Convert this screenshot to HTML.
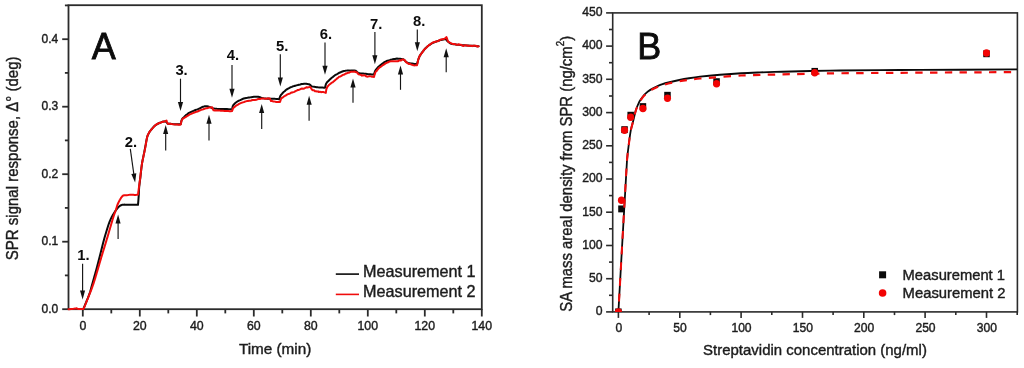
<!DOCTYPE html>
<html><head><meta charset="utf-8"><title>SPR figure</title>
<style>
html,body{margin:0;padding:0;background:#fff;}
body{width:1024px;height:368px;overflow:hidden;font-family:"Liberation Sans", sans-serif;}
svg{display:block;font-family:"Liberation Sans", sans-serif;will-change:transform;filter:blur(0.4px);}
svg text{font-family:"Liberation Sans", sans-serif;}
svg text.t{stroke:#1c1c1c;stroke-width:0.4px;}
</style></head>
<body>
<svg width="1024" height="368" viewBox="0 0 1024 368">
<rect x="0" y="0" width="1024" height="368" fill="#ffffff"/>
<rect x="68.5" y="5.2" width="413.3" height="304.0" fill="none" stroke="#2b2b2b" stroke-width="1.8"/>
<line x1="82.8" y1="309.2" x2="82.8" y2="316.5" stroke="#2b2b2b" stroke-width="1.8"/>
<text x="82.8" y="330.2" text-anchor="middle" font-size="12.3" fill="#1c1c1c" class="t">0</text>
<line x1="111.3" y1="309.2" x2="111.3" y2="313.4" stroke="#2b2b2b" stroke-width="1.8"/>
<line x1="139.8" y1="309.2" x2="139.8" y2="316.5" stroke="#2b2b2b" stroke-width="1.8"/>
<text x="139.8" y="330.2" text-anchor="middle" font-size="12.3" fill="#1c1c1c" class="t">20</text>
<line x1="168.3" y1="309.2" x2="168.3" y2="313.4" stroke="#2b2b2b" stroke-width="1.8"/>
<line x1="196.8" y1="309.2" x2="196.8" y2="316.5" stroke="#2b2b2b" stroke-width="1.8"/>
<text x="196.8" y="330.2" text-anchor="middle" font-size="12.3" fill="#1c1c1c" class="t">40</text>
<line x1="225.3" y1="309.2" x2="225.3" y2="313.4" stroke="#2b2b2b" stroke-width="1.8"/>
<line x1="253.8" y1="309.2" x2="253.8" y2="316.5" stroke="#2b2b2b" stroke-width="1.8"/>
<text x="253.8" y="330.2" text-anchor="middle" font-size="12.3" fill="#1c1c1c" class="t">60</text>
<line x1="282.3" y1="309.2" x2="282.3" y2="313.4" stroke="#2b2b2b" stroke-width="1.8"/>
<line x1="310.8" y1="309.2" x2="310.8" y2="316.5" stroke="#2b2b2b" stroke-width="1.8"/>
<text x="310.8" y="330.2" text-anchor="middle" font-size="12.3" fill="#1c1c1c" class="t">80</text>
<line x1="339.3" y1="309.2" x2="339.3" y2="313.4" stroke="#2b2b2b" stroke-width="1.8"/>
<line x1="367.8" y1="309.2" x2="367.8" y2="316.5" stroke="#2b2b2b" stroke-width="1.8"/>
<text x="367.8" y="330.2" text-anchor="middle" font-size="12.3" fill="#1c1c1c" class="t">100</text>
<line x1="396.3" y1="309.2" x2="396.3" y2="313.4" stroke="#2b2b2b" stroke-width="1.8"/>
<line x1="424.8" y1="309.2" x2="424.8" y2="316.5" stroke="#2b2b2b" stroke-width="1.8"/>
<text x="424.8" y="330.2" text-anchor="middle" font-size="12.3" fill="#1c1c1c" class="t">120</text>
<line x1="453.3" y1="309.2" x2="453.3" y2="313.4" stroke="#2b2b2b" stroke-width="1.8"/>
<line x1="481.8" y1="309.2" x2="481.8" y2="316.5" stroke="#2b2b2b" stroke-width="1.8"/>
<text x="481.8" y="330.2" text-anchor="middle" font-size="12.3" fill="#1c1c1c" class="t">140</text>
<line x1="62.2" y1="309.2" x2="68.5" y2="309.2" stroke="#2b2b2b" stroke-width="1.8"/>
<text x="58.2" y="312.8" text-anchor="end" font-size="12.0" fill="#1c1c1c" class="t">0.0</text>
<line x1="64.9" y1="275.4" x2="68.5" y2="275.4" stroke="#2b2b2b" stroke-width="1.8"/>
<line x1="62.2" y1="241.7" x2="68.5" y2="241.7" stroke="#2b2b2b" stroke-width="1.8"/>
<text x="58.2" y="245.3" text-anchor="end" font-size="12.0" fill="#1c1c1c" class="t">0.1</text>
<line x1="64.9" y1="207.9" x2="68.5" y2="207.9" stroke="#2b2b2b" stroke-width="1.8"/>
<line x1="62.2" y1="174.2" x2="68.5" y2="174.2" stroke="#2b2b2b" stroke-width="1.8"/>
<text x="58.2" y="177.8" text-anchor="end" font-size="12.0" fill="#1c1c1c" class="t">0.2</text>
<line x1="64.9" y1="140.4" x2="68.5" y2="140.4" stroke="#2b2b2b" stroke-width="1.8"/>
<line x1="62.2" y1="106.7" x2="68.5" y2="106.7" stroke="#2b2b2b" stroke-width="1.8"/>
<text x="58.2" y="110.3" text-anchor="end" font-size="12.0" fill="#1c1c1c" class="t">0.3</text>
<line x1="64.9" y1="72.9" x2="68.5" y2="72.9" stroke="#2b2b2b" stroke-width="1.8"/>
<line x1="62.2" y1="39.2" x2="68.5" y2="39.2" stroke="#2b2b2b" stroke-width="1.8"/>
<text x="58.2" y="42.8" text-anchor="end" font-size="12.0" fill="#1c1c1c" class="t">0.4</text>
<line x1="64.9" y1="5.4" x2="68.5" y2="5.4" stroke="#2b2b2b" stroke-width="1.8"/>
<polyline points="83.20,309.20 83.68,308.07 84.17,306.92 84.66,305.77 85.16,304.62 85.64,303.48 86.11,302.36 86.57,301.26 87.00,300.20 87.44,299.10 87.88,298.00 88.31,296.90 88.73,295.79 89.14,294.69 89.53,293.59 89.90,292.50 90.29,291.26 90.65,290.02 90.99,288.76 91.32,287.51 91.66,286.25 92.00,285.00 92.28,284.01 92.58,282.93 92.91,281.78 93.26,280.56 93.62,279.28 93.99,277.97 94.36,276.63 94.74,275.28 95.12,273.93 95.49,272.59 95.85,271.27 96.20,270.00 96.54,268.75 96.87,267.50 97.20,266.26 97.52,265.01 97.85,263.76 98.17,262.50 98.50,261.25 98.82,260.00 99.14,258.75 99.46,257.50 99.78,256.25 100.10,255.00 100.42,253.75 100.73,252.50 101.04,251.25 101.35,250.00 101.66,248.74 101.97,247.49 102.28,246.24 102.59,244.99 102.91,243.74 103.23,242.49 103.56,241.24 103.90,240.00 104.23,238.82 104.58,237.59 104.95,236.33 105.32,235.05 105.70,233.76 106.08,232.49 106.46,231.23 106.83,230.02 107.19,228.86 107.53,227.76 107.85,226.74 108.14,225.82 108.40,225.00 108.81,223.80 109.25,222.62 109.72,221.45 110.20,220.30 110.69,219.18 111.19,218.07 111.73,216.98 112.30,215.90 112.92,214.84 113.64,213.67 114.39,212.50 115.10,211.41 115.70,210.50 116.31,209.62 116.96,208.77 117.60,208.00 118.19,207.35 118.82,206.74 119.50,206.20 120.28,205.71 121.12,205.23 122.00,204.85 122.96,204.80 123.98,204.62 125.00,204.70 126.13,204.76 127.44,204.72 128.77,204.77 130.00,204.81 131.00,204.81 132.00,204.74 133.00,204.66 134.00,204.64 135.00,204.75 136.00,204.73 137.00,204.75 138.00,204.86 138.10,203.56 138.20,202.34 138.30,201.29 138.40,200.04 138.48,198.98 138.57,197.75 138.65,196.67 138.73,195.60 138.80,194.38 138.86,193.34 138.91,192.17 138.97,190.78 139.03,189.56 139.10,188.26 139.20,187.04 139.32,185.77 139.46,184.58 139.62,183.32 139.79,181.85 139.97,180.47 140.14,179.28 140.30,178.10 140.42,176.98 140.54,175.90 140.66,174.80 140.79,173.57 140.92,172.34 141.05,171.08 141.19,169.82 141.34,168.61 141.49,167.31 141.65,166.06 141.82,164.93 142.00,163.60 142.21,162.42 142.43,161.23 142.66,159.91 142.91,158.60 143.17,157.46 143.43,156.12 143.69,154.83 143.95,153.62 144.21,152.47 144.46,151.13 144.70,149.92 144.93,148.71 145.16,147.57 145.39,146.24 145.62,145.03 145.85,143.60 146.08,142.31 146.31,141.15 146.53,140.07 146.76,138.91 146.98,137.83 147.20,136.88 147.54,135.89 147.98,134.78 148.48,133.88 149.00,132.98 149.50,131.97 150.06,131.06 150.67,130.34 151.33,129.54 152.00,128.80 152.70,127.90 153.42,127.00 154.19,126.22 155.00,125.63 155.91,124.90 156.89,124.28 157.87,123.74 158.80,123.26 159.84,122.76 160.91,122.45 162.00,121.95 163.20,121.56 164.45,121.49 165.70,121.31 166.37,122.13 167.03,122.79 167.70,123.64 168.96,123.79 170.22,123.76 171.48,123.95 172.74,124.11 174.00,124.19 175.09,124.21 176.20,124.19 177.33,124.22 178.45,124.22 179.58,124.21 180.70,124.36 180.93,123.26 181.14,122.27 181.36,121.05 181.63,120.17 182.00,119.27 182.60,118.42 183.34,117.63 184.16,116.89 185.00,116.09 185.92,115.14 186.91,114.46 187.94,113.62 189.00,112.92 190.09,112.39 191.21,111.83 192.35,111.28 193.50,110.90 194.47,110.48 195.47,110.03 196.49,109.61 197.50,109.36 198.50,108.92 199.61,108.48 200.78,107.83 201.96,107.18 203.05,106.73 204.00,106.47 205.00,106.14 206.03,106.21 207.00,106.34 208.22,106.57 209.40,106.96 210.29,107.12 211.31,107.70 212.40,108.28 213.50,108.42 214.48,108.55 215.61,108.66 216.83,108.82 218.12,108.89 219.44,108.97 220.75,109.11 222.00,108.99 223.18,108.97 224.39,109.00 225.64,109.02 226.91,109.02 228.18,109.28 229.46,109.37 230.74,109.22 232.00,109.27 232.29,108.13 232.54,106.99 232.87,105.90 233.40,105.01 234.10,104.21 234.96,103.35 235.94,102.50 236.97,101.77 238.00,101.06 239.06,100.55 240.18,100.09 241.34,99.54 242.51,98.98 243.70,98.56 244.92,98.24 246.17,98.00 247.44,97.81 248.72,97.50 250.00,97.38 251.23,97.21 252.56,97.01 253.93,96.85 255.25,96.77 256.43,96.78 257.40,96.70 258.28,96.82 259.15,96.97 260.00,97.14 260.91,97.55 261.83,98.06 262.80,98.20 263.75,98.33 264.87,98.41 266.13,98.58 267.44,98.69 268.75,98.59 270.00,98.73 271.05,98.78 272.16,98.69 273.30,98.73 274.47,98.68 275.66,98.88 276.85,98.96 278.04,99.08 279.20,99.14 279.61,97.91 280.02,96.72 280.60,95.57 281.25,94.59 282.06,93.75 282.95,92.70 283.86,91.81 284.70,91.20 285.60,90.33 286.53,89.59 287.50,88.92 288.50,88.52 289.57,87.84 290.69,87.20 291.84,86.88 293.00,86.30 294.10,86.06 295.28,85.69 296.51,85.37 297.76,85.08 299.00,84.70 300.26,84.47 301.57,84.03 302.86,83.94 304.09,83.79 305.20,83.77 306.27,83.66 307.34,83.90 308.38,84.23 309.30,84.34 310.23,84.95 311.06,85.80 312.00,86.48 312.99,86.62 314.16,86.76 315.44,86.91 316.74,87.15 318.00,87.36 319.11,87.40 320.26,87.46 321.44,87.53 322.63,87.59 323.82,87.67 325.00,87.66 325.29,86.56 325.55,85.53 325.88,84.29 326.40,83.28 327.01,82.31 327.79,81.51 328.65,80.68 329.55,79.81 330.42,78.96 331.20,78.21 332.10,77.46 333.04,76.81 334.01,75.94 335.00,75.17 336.08,74.61 337.21,74.02 338.34,73.31 339.40,72.71 340.59,72.25 341.81,71.70 343.00,71.31 344.09,70.98 345.19,70.83 346.30,70.63 347.27,70.52 348.44,70.56 349.70,70.62 350.95,70.45 352.09,70.47 353.00,70.40 354.28,70.45 355.50,70.67 356.33,71.30 357.18,72.22 358.20,72.83 359.05,73.13 360.06,73.31 361.18,73.39 362.39,73.52 363.62,73.62 364.84,73.84 366.00,73.82 367.13,74.10 368.27,74.13 369.41,74.22 370.56,74.27 371.71,74.43 372.86,74.55 374.00,74.58 374.29,73.51 374.56,72.52 374.88,71.57 375.30,70.53 375.87,69.71 376.53,68.98 377.26,68.11 378.00,67.25 378.81,66.41 379.67,65.72 380.57,64.99 381.50,64.35 382.46,63.68 383.46,62.87 384.47,62.17 385.50,61.60 386.52,61.07 387.57,60.76 388.64,60.46 389.70,60.15 390.77,59.69 391.86,59.52 392.95,59.18 394.00,58.98 394.97,58.91 395.94,58.66 396.92,58.54 397.90,58.72 398.95,58.71 400.15,58.79 401.37,58.98 402.49,59.21 403.40,59.29 404.19,59.81 404.85,60.56 405.50,61.27 406.45,62.05 407.50,62.78 408.45,63.19 409.59,63.34 410.81,63.54 412.00,63.61 413.21,63.75 414.47,63.97 415.74,63.98 417.00,64.26 417.32,63.15 417.62,61.76 417.95,60.73 418.30,59.51 418.67,58.55 419.06,57.57 419.51,56.46 420.00,55.54 420.56,54.63 421.18,53.77 421.83,52.76 422.50,51.96 423.20,51.14 423.93,50.18 424.70,49.23 425.50,48.22 426.38,47.40 427.33,46.52 428.30,45.79 429.30,45.06 430.32,44.37 431.37,43.63 432.44,43.13 433.50,42.64 434.50,42.08 435.52,41.81 436.56,41.44 437.60,40.93 438.69,40.73 439.82,40.24 440.94,39.91 442.00,39.73 443.26,39.45 444.53,39.19 445.80,38.96 446.43,39.85 447.06,40.72 447.80,41.49 448.53,42.04 449.36,42.78 450.26,43.37 451.20,43.74 452.21,44.05 453.35,44.16 454.56,44.25 455.80,44.40 457.00,44.67 458.04,44.64 459.11,44.82 460.20,44.90 461.30,45.14 462.41,45.18 463.50,45.24 464.69,45.33 465.93,45.43 467.19,45.57 468.46,45.55 469.74,45.71 471.00,45.63 472.26,45.71 473.53,45.76 474.79,45.86 476.06,46.15 477.33,46.34 478.60,46.34" fill="none" stroke="#0a0a0a" stroke-width="2.0" stroke-linejoin="round" stroke-linecap="round"/>
<polyline points="68.50,309.20 69.69,309.14 70.87,309.08 72.00,309.00 73.06,308.88 74.11,308.73 75.00,308.60 75.75,308.40 76.50,308.30 77.24,308.58 78.00,308.90 79.19,309.04 80.50,309.10 81.49,309.09 82.54,309.04 83.60,309.00 84.05,307.88 84.50,306.75 84.96,305.63 85.41,304.50 85.86,303.38 86.31,302.25 86.76,301.13 87.20,300.00 87.58,299.04 87.98,298.02 88.41,296.95 88.86,295.83 89.33,294.67 89.80,293.48 90.28,292.27 90.76,291.04 91.23,289.81 91.70,288.58 92.15,287.37 92.59,286.17 93.00,285.00 93.39,283.86 93.77,282.71 94.14,281.56 94.50,280.41 94.86,279.26 95.21,278.10 95.55,276.94 95.89,275.79 96.23,274.63 96.57,273.47 96.91,272.31 97.26,271.15 97.60,270.00 97.94,268.85 98.29,267.69 98.62,266.54 98.96,265.39 99.30,264.23 99.63,263.08 99.97,261.92 100.30,260.77 100.64,259.61 100.98,258.46 101.31,257.31 101.66,256.15 102.00,255.00 102.35,253.85 102.70,252.69 103.05,251.54 103.41,250.38 103.76,249.23 104.12,248.08 104.48,246.92 104.84,245.77 105.19,244.62 105.55,243.46 105.90,242.31 106.25,241.15 106.60,240.00 106.95,238.83 107.30,237.64 107.66,236.42 108.02,235.20 108.38,233.97 108.74,232.74 109.09,231.53 109.44,230.34 109.78,229.18 110.10,228.06 110.42,226.98 110.72,225.96 111.00,225.00 111.34,223.84 111.69,222.64 112.04,221.42 112.39,220.22 112.74,219.04 113.07,217.91 113.40,216.86 113.70,215.90 114.08,214.81 114.48,213.73 114.90,212.66 115.31,211.58 115.70,210.50 116.05,209.39 116.38,208.27 116.70,207.15 117.03,206.05 117.40,205.00 117.92,203.76 118.49,202.51 119.08,201.33 119.60,200.30 120.12,199.45 120.67,198.46 121.20,197.66 121.86,196.81 122.60,195.91 123.40,195.51 124.30,195.21 125.41,195.17 126.74,195.17 128.00,195.04 129.00,194.88 130.00,194.64 131.00,194.69 132.13,194.68 133.31,194.81 134.50,194.94 135.67,194.91 136.83,194.87 138.00,194.72 138.14,193.55 138.28,192.45 138.43,191.32 138.57,190.26 138.71,189.07 138.85,188.15 139.00,187.04 139.16,185.69 139.33,184.41 139.50,183.13 139.68,181.84 139.86,180.47 140.03,179.33 140.20,178.15 140.33,177.05 140.45,175.94 140.58,174.68 140.72,173.45 140.86,172.27 141.00,171.03 141.15,169.92 141.30,168.54 141.47,167.19 141.64,166.16 141.81,164.92 142.00,163.62 142.22,162.42 142.45,161.05 142.70,159.87 142.96,158.78 143.22,157.57 143.49,156.29 143.77,154.91 144.04,153.64 144.30,152.34 144.56,151.24 144.80,150.02 145.03,148.88 145.25,147.52 145.48,146.16 145.70,144.99 145.91,143.80 146.13,142.54 146.35,141.30 146.56,140.13 146.77,139.02 146.99,137.87 147.20,137.00 147.54,135.89 147.98,134.72 148.48,133.65 149.00,132.73 149.50,131.87 150.06,131.12 150.67,130.42 151.33,129.53 152.00,128.84 152.70,128.09 153.42,127.30 154.19,126.37 155.00,125.55 155.91,124.85 156.89,124.21 157.87,123.65 158.80,123.27 159.84,122.91 160.91,122.52 162.00,122.06 163.30,121.69 164.66,121.40 165.70,120.94 166.50,120.52 166.90,121.62 167.30,122.63 167.70,123.63 168.96,123.72 170.22,123.78 171.48,124.07 172.74,124.15 174.00,124.37 175.09,124.54 176.20,124.48 177.33,124.47 178.45,124.64 179.58,124.67 180.70,124.56 180.99,123.20 181.24,121.84 181.56,120.79 182.00,119.80 182.83,118.70 183.89,118.06 185.00,117.46 185.93,116.83 186.93,116.14 187.97,115.57 189.00,114.91 190.08,114.26 191.20,113.91 192.35,113.38 193.50,112.84 194.47,112.55 195.46,112.09 196.47,111.82 197.49,111.49 198.50,110.99 199.57,110.55 200.67,110.07 201.78,109.64 202.90,109.41 204.00,108.96 205.12,108.64 206.28,108.15 207.42,108.13 208.49,107.71 209.40,107.47 210.32,107.38 211.26,107.49 212.20,107.26 212.63,108.47 213.07,109.37 213.50,110.36 214.71,110.43 215.93,110.26 217.14,110.45 218.36,110.45 219.57,110.41 220.78,110.83 222.00,110.74 223.18,110.86 224.39,111.07 225.64,111.09 226.91,111.01 228.18,111.08 229.46,111.15 230.74,111.31 232.00,111.07 232.47,110.00 232.94,108.71 233.60,107.63 234.29,107.16 235.12,106.41 236.04,105.71 237.02,105.15 238.00,104.67 239.05,103.94 240.17,103.42 241.33,102.89 242.52,102.43 243.70,102.11 244.71,101.70 245.75,101.41 246.80,101.10 247.87,101.07 248.93,100.81 250.00,100.68 251.19,100.54 252.45,100.05 253.74,99.89 255.03,99.93 256.26,99.82 257.40,99.34 258.52,99.04 259.64,98.97 260.76,98.68 261.88,98.56 263.00,98.38 264.05,98.55 265.15,98.66 266.28,98.73 267.43,98.36 268.57,98.44 269.70,98.42 270.13,99.01 270.57,100.10 271.00,101.09 272.00,101.00 272.99,101.45 273.99,101.49 275.00,101.62 276.18,101.98 277.44,102.10 278.73,101.87 280.00,101.95 280.36,100.84 280.72,99.63 281.30,98.51 282.05,97.79 282.97,97.30 283.99,96.39 285.00,95.93 285.94,95.39 286.97,94.63 288.04,94.14 289.13,93.78 290.20,93.29 291.25,92.61 292.30,92.51 293.36,92.14 294.43,91.84 295.50,91.05 296.60,90.55 297.73,90.00 298.86,89.92 299.96,89.43 301.00,88.81 302.12,88.59 303.25,88.70 304.37,88.49 305.50,87.77 306.62,87.20 307.75,87.44 308.87,87.12 310.00,86.93 310.63,87.57 311.26,88.44 312.00,89.74 312.96,90.28 314.03,90.35 315.00,91.19 316.00,91.31 317.00,91.54 317.99,91.37 319.00,92.11 319.93,91.70 320.97,92.14 322.00,92.04 323.21,92.05 324.50,92.37 325.80,92.95 326.04,91.34 326.24,89.81 326.52,88.80 327.00,87.53 327.62,86.48 328.38,85.60 329.24,84.67 330.14,83.95 331.00,83.32 331.83,82.65 332.68,82.36 333.55,81.48 334.42,80.89 335.30,80.01 336.27,79.29 337.29,78.26 338.34,77.55 339.41,76.62 340.50,76.42 341.46,75.93 342.47,75.10 343.49,74.66 344.50,74.57 345.45,73.61 346.30,73.58 347.22,73.04 348.18,72.68 349.12,72.65 350.00,72.14 351.01,71.83 352.03,71.71 353.00,71.87 354.30,71.55 355.50,72.01 356.36,72.28 357.20,72.55 357.67,73.17 358.13,73.86 358.60,74.38 359.79,74.64 360.97,74.90 362.00,75.64 363.00,75.43 364.00,75.22 364.99,75.38 366.00,76.25 366.86,76.62 367.88,76.63 368.96,76.35 370.00,76.26 371.00,76.37 372.00,76.67 373.00,76.66 374.00,77.00 374.29,75.67 374.56,74.95 374.88,73.98 375.30,72.67 375.85,71.44 376.52,71.09 377.25,70.02 378.00,69.18 378.81,68.06 379.67,67.45 380.57,66.85 381.50,66.23 382.46,65.37 383.46,64.90 384.47,63.98 385.50,63.50 386.53,62.87 387.58,62.59 388.64,61.95 389.70,61.47 390.77,61.36 391.86,61.14 392.95,61.25 394.00,61.17 394.99,61.27 396.00,61.21 396.98,61.19 397.90,61.24 398.97,60.70 400.02,60.25 401.00,60.46 402.22,59.47 403.40,59.53 404.13,60.03 404.82,60.30 405.50,61.44 406.48,62.47 407.50,63.08 408.29,63.59 409.13,64.12 410.00,63.98 410.96,64.40 411.97,64.71 413.00,65.17 413.93,65.33 414.94,65.39 415.98,65.18 417.00,65.34 417.32,64.02 417.62,62.74 417.95,61.12 418.30,59.58 418.67,58.35 419.07,57.35 419.51,56.08 420.00,55.56 420.55,54.63 421.17,53.79 421.83,52.94 422.50,52.12 423.20,51.08 423.93,49.70 424.70,49.24 425.50,48.54 426.38,47.54 427.33,46.65 428.30,45.92 429.30,44.72 430.32,44.39 431.37,43.53 432.44,42.70 433.50,42.21 434.51,42.15 435.53,41.47 436.57,41.40 437.60,41.33 438.72,40.64 439.90,39.98 441.03,39.53 442.00,39.34 443.28,39.15 444.50,38.72 445.47,38.16 446.40,37.05 446.80,37.96 447.21,39.07 447.61,40.50 448.00,41.15 448.68,42.12 449.50,42.39 450.31,42.79 451.20,43.26 452.05,43.74 453.03,43.95 454.00,44.11 454.99,44.11 455.99,44.53 457.00,44.76 458.00,44.73 459.00,44.29 460.00,44.77 461.13,44.69 462.31,45.56 463.50,46.00 464.67,45.31 465.83,45.23 467.00,45.51 467.98,45.92 469.00,45.83 470.02,45.76 471.00,45.71 472.17,46.20 473.33,45.70 474.50,45.81 475.48,45.62 476.51,45.98 477.56,46.63 478.60,46.34" fill="none" stroke="#f00c0c" stroke-width="2.0" stroke-linejoin="round" stroke-linecap="round"/>
<line x1="82.6" y1="263.7" x2="82.6" y2="291.6" stroke="#141414" stroke-width="1.15"/>
<polygon points="82.6,299.6 80.0,290.6 85.1,290.6" fill="#111"/>
<line x1="130.3" y1="148.8" x2="133.9" y2="174.6" stroke="#141414" stroke-width="1.15"/>
<polygon points="135.1,182.5 131.3,173.9 136.3,173.2" fill="#111"/>
<line x1="180.5" y1="78.7" x2="180.5" y2="103.0" stroke="#141414" stroke-width="1.15"/>
<polygon points="180.5,111.0 177.9,102.0 183.1,102.0" fill="#111"/>
<line x1="232.0" y1="65.0" x2="232.0" y2="89.7" stroke="#141414" stroke-width="1.15"/>
<polygon points="232.0,97.7 229.4,88.7 234.6,88.7" fill="#111"/>
<line x1="280.3" y1="54.2" x2="280.3" y2="78.4" stroke="#141414" stroke-width="1.15"/>
<polygon points="280.3,86.4 277.8,77.4 282.9,77.4" fill="#111"/>
<line x1="325.0" y1="42.6" x2="325.0" y2="66.8" stroke="#141414" stroke-width="1.15"/>
<polygon points="325.0,74.8 322.4,65.8 327.6,65.8" fill="#111"/>
<line x1="374.9" y1="32.1" x2="374.9" y2="56.2" stroke="#141414" stroke-width="1.15"/>
<polygon points="374.9,64.2 372.3,55.2 377.4,55.2" fill="#111"/>
<line x1="417.3" y1="29.4" x2="417.3" y2="43.2" stroke="#141414" stroke-width="1.15"/>
<polygon points="417.3,51.2 414.8,42.2 419.9,42.2" fill="#111"/>
<line x1="118.1" y1="239.0" x2="118.1" y2="222.6" stroke="#141414" stroke-width="1.15"/>
<polygon points="118.1,214.6 120.6,223.6 115.5,223.6" fill="#111"/>
<line x1="165.7" y1="150.5" x2="165.7" y2="133.0" stroke="#141414" stroke-width="1.15"/>
<polygon points="165.7,125.0 168.2,134.0 163.1,134.0" fill="#111"/>
<line x1="209.0" y1="140.5" x2="209.0" y2="122.8" stroke="#141414" stroke-width="1.15"/>
<polygon points="209.0,114.8 211.6,123.8 206.4,123.8" fill="#111"/>
<line x1="261.7" y1="129.0" x2="261.7" y2="112.1" stroke="#141414" stroke-width="1.15"/>
<polygon points="261.7,104.1 264.2,113.1 259.1,113.1" fill="#111"/>
<line x1="309.1" y1="120.8" x2="309.1" y2="103.8" stroke="#141414" stroke-width="1.15"/>
<polygon points="309.1,95.8 311.7,104.8 306.6,104.8" fill="#111"/>
<line x1="353.0" y1="102.7" x2="353.0" y2="86.6" stroke="#141414" stroke-width="1.15"/>
<polygon points="353.0,78.6 355.6,87.6 350.4,87.6" fill="#111"/>
<line x1="400.5" y1="89.8" x2="400.5" y2="73.5" stroke="#141414" stroke-width="1.15"/>
<polygon points="400.5,65.5 403.1,74.5 397.9,74.5" fill="#111"/>
<line x1="446.2" y1="72.2" x2="446.2" y2="56.2" stroke="#141414" stroke-width="1.15"/>
<polygon points="446.2,48.2 448.8,57.2 443.6,57.2" fill="#111"/>
<text x="77.3" y="260.0" font-size="14.8" font-weight="700" fill="#0c0c0c">1.</text>
<text x="124.8" y="146.9" font-size="14.8" font-weight="700" fill="#0c0c0c">2.</text>
<text x="175.4" y="75.0" font-size="14.8" font-weight="700" fill="#0c0c0c">3.</text>
<text x="226.7" y="60.0" font-size="14.8" font-weight="700" fill="#0c0c0c">4.</text>
<text x="276.0" y="50.8" font-size="14.8" font-weight="700" fill="#0c0c0c">5.</text>
<text x="319.8" y="39.3" font-size="14.8" font-weight="700" fill="#0c0c0c">6.</text>
<text x="370.0" y="29.1" font-size="14.8" font-weight="700" fill="#0c0c0c">7.</text>
<text x="413.1" y="25.7" font-size="14.8" font-weight="700" fill="#0c0c0c">8.</text>
<text x="91.7" y="58.9" font-size="36" fill="#0c0c0c" stroke="#0c0c0c" stroke-width="0.8">A</text>
<line x1="335.8" y1="274.1" x2="359" y2="274.1" stroke="#0a0a0a" stroke-width="1.6"/>
<line x1="335.8" y1="294.4" x2="359" y2="294.4" stroke="#f00c0c" stroke-width="1.6"/>
<text x="363.1" y="277.0" font-size="16.2" fill="#1c1c1c" class="t">Measurement 1</text>
<text x="363.1" y="297.4" font-size="16.2" fill="#1c1c1c" class="t">Measurement 2</text>
<text x="238.9" y="354.4" font-size="15" textLength="72.4" lengthAdjust="spacingAndGlyphs" fill="#1c1c1c" class="t">Time (min)</text>
<text transform="translate(18.4,260.2) rotate(-90)" font-size="16" textLength="203.7" lengthAdjust="spacingAndGlyphs" fill="#1c1c1c" class="t">SPR signal response, Δ° (deg)</text>
<rect x="612.7" y="12.9" width="404.69999999999993" height="299.0" fill="none" stroke="#2b2b2b" stroke-width="1.6"/>
<line x1="618.4" y1="311.9" x2="618.4" y2="317.9" stroke="#2b2b2b" stroke-width="1.6"/>
<text x="618.8" y="332.0" text-anchor="middle" font-size="12.1" fill="#1c1c1c" class="t">0</text>
<line x1="649.1" y1="311.9" x2="649.1" y2="315.09999999999997" stroke="#2b2b2b" stroke-width="1.6"/>
<line x1="679.8" y1="311.9" x2="679.8" y2="317.9" stroke="#2b2b2b" stroke-width="1.6"/>
<text x="680.1" y="332.0" text-anchor="middle" font-size="12.1" fill="#1c1c1c" class="t">50</text>
<line x1="710.4" y1="311.9" x2="710.4" y2="315.09999999999997" stroke="#2b2b2b" stroke-width="1.6"/>
<line x1="741.1" y1="311.9" x2="741.1" y2="317.9" stroke="#2b2b2b" stroke-width="1.6"/>
<text x="741.5" y="332.0" text-anchor="middle" font-size="12.1" fill="#1c1c1c" class="t">100</text>
<line x1="771.8" y1="311.9" x2="771.8" y2="315.09999999999997" stroke="#2b2b2b" stroke-width="1.6"/>
<line x1="802.5" y1="311.9" x2="802.5" y2="317.9" stroke="#2b2b2b" stroke-width="1.6"/>
<text x="802.9" y="332.0" text-anchor="middle" font-size="12.1" fill="#1c1c1c" class="t">150</text>
<line x1="833.1" y1="311.9" x2="833.1" y2="315.09999999999997" stroke="#2b2b2b" stroke-width="1.6"/>
<line x1="863.8" y1="311.9" x2="863.8" y2="317.9" stroke="#2b2b2b" stroke-width="1.6"/>
<text x="864.2" y="332.0" text-anchor="middle" font-size="12.1" fill="#1c1c1c" class="t">200</text>
<line x1="894.5" y1="311.9" x2="894.5" y2="315.09999999999997" stroke="#2b2b2b" stroke-width="1.6"/>
<line x1="925.1" y1="311.9" x2="925.1" y2="317.9" stroke="#2b2b2b" stroke-width="1.6"/>
<text x="925.5" y="332.0" text-anchor="middle" font-size="12.1" fill="#1c1c1c" class="t">250</text>
<line x1="955.8" y1="311.9" x2="955.8" y2="315.09999999999997" stroke="#2b2b2b" stroke-width="1.6"/>
<line x1="986.5" y1="311.9" x2="986.5" y2="317.9" stroke="#2b2b2b" stroke-width="1.6"/>
<text x="986.9" y="332.0" text-anchor="middle" font-size="12.1" fill="#1c1c1c" class="t">300</text>
<line x1="1017.2" y1="311.9" x2="1017.2" y2="315.09999999999997" stroke="#2b2b2b" stroke-width="1.6"/>
<line x1="606.1" y1="311.9" x2="612.7" y2="311.9" stroke="#2b2b2b" stroke-width="1.6"/>
<text x="602.6" y="315.2" text-anchor="end" font-size="12.2" fill="#1c1c1c" class="t">0</text>
<line x1="609.0" y1="295.3" x2="612.7" y2="295.3" stroke="#2b2b2b" stroke-width="1.6"/>
<line x1="606.1" y1="278.7" x2="612.7" y2="278.7" stroke="#2b2b2b" stroke-width="1.6"/>
<text x="602.6" y="282.0" text-anchor="end" font-size="12.2" fill="#1c1c1c" class="t">50</text>
<line x1="609.0" y1="262.1" x2="612.7" y2="262.1" stroke="#2b2b2b" stroke-width="1.6"/>
<line x1="606.1" y1="245.5" x2="612.7" y2="245.5" stroke="#2b2b2b" stroke-width="1.6"/>
<text x="602.6" y="248.8" text-anchor="end" font-size="12.2" fill="#1c1c1c" class="t">100</text>
<line x1="609.0" y1="228.8" x2="612.7" y2="228.8" stroke="#2b2b2b" stroke-width="1.6"/>
<line x1="606.1" y1="212.2" x2="612.7" y2="212.2" stroke="#2b2b2b" stroke-width="1.6"/>
<text x="602.6" y="215.5" text-anchor="end" font-size="12.2" fill="#1c1c1c" class="t">150</text>
<line x1="609.0" y1="195.6" x2="612.7" y2="195.6" stroke="#2b2b2b" stroke-width="1.6"/>
<line x1="606.1" y1="179.0" x2="612.7" y2="179.0" stroke="#2b2b2b" stroke-width="1.6"/>
<text x="602.6" y="182.3" text-anchor="end" font-size="12.2" fill="#1c1c1c" class="t">200</text>
<line x1="609.0" y1="162.4" x2="612.7" y2="162.4" stroke="#2b2b2b" stroke-width="1.6"/>
<line x1="606.1" y1="145.8" x2="612.7" y2="145.8" stroke="#2b2b2b" stroke-width="1.6"/>
<text x="602.6" y="149.1" text-anchor="end" font-size="12.2" fill="#1c1c1c" class="t">250</text>
<line x1="609.0" y1="129.2" x2="612.7" y2="129.2" stroke="#2b2b2b" stroke-width="1.6"/>
<line x1="606.1" y1="112.6" x2="612.7" y2="112.6" stroke="#2b2b2b" stroke-width="1.6"/>
<text x="602.6" y="115.9" text-anchor="end" font-size="12.2" fill="#1c1c1c" class="t">300</text>
<line x1="609.0" y1="96.0" x2="612.7" y2="96.0" stroke="#2b2b2b" stroke-width="1.6"/>
<line x1="606.1" y1="79.3" x2="612.7" y2="79.3" stroke="#2b2b2b" stroke-width="1.6"/>
<text x="602.6" y="82.6" text-anchor="end" font-size="12.2" fill="#1c1c1c" class="t">350</text>
<line x1="609.0" y1="62.7" x2="612.7" y2="62.7" stroke="#2b2b2b" stroke-width="1.6"/>
<line x1="606.1" y1="46.1" x2="612.7" y2="46.1" stroke="#2b2b2b" stroke-width="1.6"/>
<text x="602.6" y="49.4" text-anchor="end" font-size="12.2" fill="#1c1c1c" class="t">400</text>
<line x1="609.0" y1="29.5" x2="612.7" y2="29.5" stroke="#2b2b2b" stroke-width="1.6"/>
<line x1="606.1" y1="12.9" x2="612.7" y2="12.9" stroke="#2b2b2b" stroke-width="1.6"/>
<text x="602.6" y="16.2" text-anchor="end" font-size="12.2" fill="#1c1c1c" class="t">450</text>
<clipPath id="clipB"><rect x="650.08" y="12.9" width="429.39" height="299.0"/></clipPath>
<g transform="scale(0.9425,1)" clip-path="url(#clipB)">
<path d="M656.13,311.90 C659.13,261.93 663.30,189.98 665.15,162.00 C665.54,155.97 666.53,149.27 667.21,144.00 C667.81,139.45 668.51,134.25 669.28,130.40 C669.93,127.19 670.99,124.07 671.83,120.90 C672.73,117.50 673.70,113.02 674.69,110.00 C675.51,107.52 676.87,104.60 677.77,102.80 C678.41,101.52 679.27,100.36 680.11,99.20 C681.03,97.93 682.11,96.43 683.29,95.20 C684.51,93.93 686.01,92.67 687.43,91.60 C688.80,90.56 690.25,89.61 691.78,88.80 C693.47,87.90 695.76,86.97 697.61,86.20 C699.36,85.48 701.12,84.78 702.92,84.20 C704.85,83.58 707.07,83.00 709.18,82.50 C712.15,81.80 717.10,80.72 720.74,80.00 C724.16,79.33 727.59,78.73 731.03,78.20 C734.69,77.63 738.80,77.02 742.71,76.60 C748.19,76.02 756.85,75.25 763.93,74.70 C771.18,74.13 779.13,73.58 786.21,73.20 C792.92,72.84 799.65,72.63 806.37,72.40 C813.62,72.15 821.93,71.91 829.71,71.70 C838.55,71.47 849.51,71.19 859.42,71.00 C869.67,70.80 880.64,70.61 891.25,70.50 C907.16,70.33 933.69,70.13 954.91,70.00 C976.13,69.87 997.88,69.80 1018.57,69.70 C1038.73,69.60 1058.89,69.50 1079.05,69.40" fill="none" stroke="#0a0a0a" stroke-width="1.9" stroke-linejoin="round"/>
<rect x="652.68" y="308.45" width="6.9" height="6.9" fill="#0a0a0a"/>
<rect x="655.93" y="205.46" width="6.9" height="6.9" fill="#0a0a0a"/>
<rect x="659.19" y="126.19" width="6.9" height="6.9" fill="#0a0a0a"/>
<rect x="665.70" y="111.77" width="6.9" height="6.9" fill="#0a0a0a"/>
<rect x="678.71" y="103.14" width="6.9" height="6.9" fill="#0a0a0a"/>
<rect x="704.75" y="91.84" width="6.9" height="6.9" fill="#0a0a0a"/>
<rect x="756.83" y="78.22" width="6.9" height="6.9" fill="#0a0a0a"/>
<rect x="860.97" y="67.92" width="6.9" height="6.9" fill="#0a0a0a"/>
<rect x="1043.23" y="50.31" width="6.9" height="6.9" fill="#0a0a0a"/>
<path d="M656.13,311.90 C659.13,261.93 663.30,189.98 665.15,162.00 C665.54,155.97 666.53,149.27 667.21,144.00 C667.81,139.45 668.51,134.22 669.28,130.40 C669.92,127.25 670.99,124.20 671.83,121.10 C672.73,117.75 673.70,113.28 674.69,110.30 C675.51,107.85 676.87,104.97 677.77,103.20 C678.41,101.95 679.27,100.82 680.11,99.70 C681.03,98.47 682.12,97.00 683.29,95.80 C684.51,94.55 686.01,93.25 687.43,92.20 C688.80,91.18 690.26,90.28 691.78,89.50 C693.47,88.63 695.76,87.73 697.61,87.00 C699.36,86.31 701.12,85.64 702.92,85.10 C704.85,84.52 707.07,83.95 709.18,83.50 C712.15,82.87 717.10,81.92 720.74,81.30 C724.16,80.72 727.60,80.24 731.03,79.80 C734.69,79.33 738.81,78.85 742.71,78.50 C746.77,78.13 751.19,77.89 755.44,77.60 C762.69,77.10 777.72,75.95 786.21,75.50 C792.92,75.14 799.65,75.07 806.37,74.90 C813.62,74.72 821.93,74.56 829.71,74.40 C842.09,74.15 863.66,73.62 880.64,73.40 C901.50,73.13 931.92,72.97 954.91,72.80 C976.13,72.65 997.88,72.52 1018.57,72.40 C1038.73,72.29 1058.89,72.20 1079.05,72.10" fill="none" stroke="#f00c0c" stroke-width="2.2" stroke-dasharray="7.8 7.85" stroke-dashoffset="5.08" stroke-linejoin="round"/>
<circle cx="656.13" cy="311.90" r="3.75" fill="#f20404"/>
<circle cx="659.38" cy="200.27" r="3.75" fill="#f20404"/>
<circle cx="662.64" cy="130.17" r="3.75" fill="#f20404"/>
<circle cx="669.15" cy="117.22" r="3.75" fill="#f20404"/>
<circle cx="682.16" cy="108.58" r="3.75" fill="#f20404"/>
<circle cx="708.20" cy="98.28" r="3.75" fill="#f20404"/>
<circle cx="760.28" cy="83.66" r="3.75" fill="#f20404"/>
<circle cx="864.42" cy="72.70" r="3.75" fill="#f20404"/>
<circle cx="1046.68" cy="52.97" r="3.75" fill="#f20404"/>
</g>
<text x="637.3" y="59.2" font-size="36" fill="#0c0c0c" stroke="#0c0c0c" stroke-width="0.8">B</text>
<rect x="879.1" y="271.3" width="7" height="7" fill="#0a0a0a"/>
<circle cx="882.6" cy="293.0" r="3.8" fill="#f20404"/>
<text x="902.6" y="280.1" font-size="14.9" textLength="102.4" lengthAdjust="spacingAndGlyphs" fill="#1c1c1c" class="t">Measurement 1</text>
<text x="902.6" y="297.7" font-size="14.9" textLength="102.9" lengthAdjust="spacingAndGlyphs" fill="#1c1c1c" class="t">Measurement 2</text>
<text x="703.1" y="355.3" font-size="15.2" textLength="223.8" lengthAdjust="spacingAndGlyphs" fill="#1c1c1c" class="t">Streptavidin concentration (ng/ml)</text>
<text transform="translate(571.8,311.75) rotate(-90)" font-size="16" textLength="275.85" lengthAdjust="spacingAndGlyphs" fill="#1c1c1c" class="t">SA mass areal density from SPR (ng/cm<tspan font-size="10.5" dy="-8">2</tspan><tspan dy="8">)</tspan></text>
</svg>
</body></html>
